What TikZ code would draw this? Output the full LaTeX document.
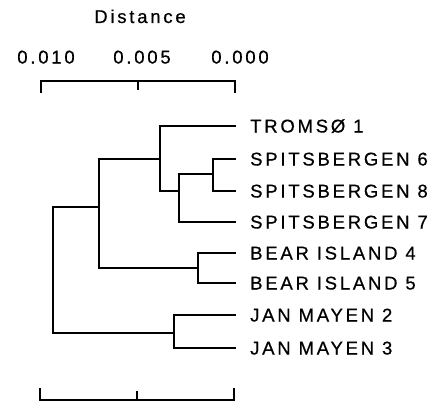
\documentclass[tikz,border=0pt]{standalone}
\usepackage{fontspec}
\setmainfont{Liberation Sans}[LetterSpace=15,FakeBold=0.6]
\begin{document}
\begin{tikzpicture}[x=1pt,y=-1pt,
  link/.style={line width=1.4pt,line cap=rect},
  taxon/.style={anchor=west,font=\fontsize{18.5}{20}\selectfont,inner xsep=15pt,inner ysep=0pt,text height=13pt,text depth=0pt},
  ticklabel/.style={font=\fontsize{18.5}{20}\selectfont,inner sep=0pt,text height=13pt,text depth=0pt}]
\useasboundingbox (0,0) rectangle (442,412);

% distance scale at the top
\node[ticklabel] (title) at (140,16.5) {Distance};
\node[ticklabel] (l10) at (46,57) {0.010};
\node[ticklabel] (l05) at (142,57) {0.005};
\node[ticklabel] (l00) at (240,57) {0.000};
\coordinate (s10) at (41,81);
\coordinate (s05) at (138,81);
\coordinate (s00) at (235,81);
\draw[link] ([yshift=-11]s10) -- (s10) -- (s00) -- ([yshift=-11]s00);
\draw[link] (s05) -- ([yshift=-8]s05);

% taxa
\node[taxon] (t1) at (235,126) {TROMSØ 1};
\node[taxon] (sp6) at (235,159) {SPITSBERGEN 6};
\node[taxon] (sp8) at (235,191) {SPITSBERGEN 8};
\node[taxon] (sp7) at (235,222) {SPITSBERGEN 7};
\node[taxon] (b4) at (235,253) {BEAR ISLAND 4};
\node[taxon] (b5) at (235,283) {BEAR ISLAND 5};
\node[taxon] (j2) at (235,315) {JAN MAYEN 2};
\node[taxon] (j3) at (235,348) {JAN MAYEN 3};

% internal nodes (x = height, y = attachment point)
\coordinate (nD) at (213,174);
\coordinate (nC) at (179,191);
\coordinate (nB) at (160,159);
\coordinate (nE) at (198,268);
\coordinate (nA) at (99,207);
\coordinate (nF) at (174,333);
\coordinate (root) at (53,270);

% branches
\draw[link] (nD) |- (sp6.west);
\draw[link] (nD) |- (sp8.west);
\draw[link] (nC) |- (nD);
\draw[link] (nC) |- (sp7.west);
\draw[link] (nB) |- (t1.west);
\draw[link] (nB) |- (nC);
\draw[link] (nE) |- (b4.west);
\draw[link] (nE) |- (b5.west);
\draw[link] (nA) |- (nB);
\draw[link] (nA) |- (nE);
\draw[link] (nF) |- (j2.west);
\draw[link] (nF) |- (j3.west);
\draw[link] (root) |- (nA);
\draw[link] (root) |- (nF);

% scale bar at the bottom
\coordinate (c0) at (40,400);
\coordinate (c1) at (137,400);
\coordinate (c2) at (234,400);
\draw[link] ([yshift=11]c0) -- (c0) -- (c2) -- ([yshift=11]c2);
\draw[link] (c1) -- ([yshift=8]c1);
\end{tikzpicture}
\end{document}
